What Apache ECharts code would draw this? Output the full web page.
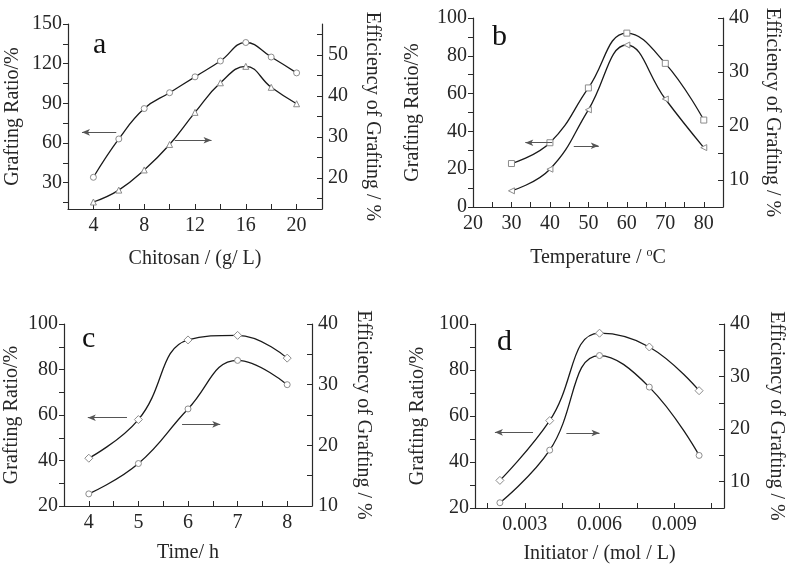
<!DOCTYPE html>
<html>
<head>
<meta charset="utf-8">
<script src="https://cdn.jsdelivr.net/npm/echarts@6/dist/echarts.min.js"></script>
<style>html,body{margin:0;padding:0;background:#fff;}#chart{width:787px;height:565px;}</style>
</head>
<body>
<div id="chart"></div>
<script>
// ---- data ----
const aX = [4, 6, 8, 10, 12, 14, 16, 18, 20];
const aRatio = [34, 63, 86, 98, 110, 122, 136, 125, 113];
const aEff = [14.2, 17.1, 22, 28.2, 36, 43.2, 47.2, 42.1, 38.1];

const bX = [30, 40, 50, 60, 70, 80];
const bRatio = [23, 34, 63, 92, 76, 46];
const bEff = [8, 12, 23, 35, 25, 16];

const cX = [4, 5, 6, 7, 8];
const cRatio = [41, 58, 93, 95, 85];
const cEff = [12, 17, 26, 34, 30];

const dX = [0.002, 0.004, 0.006, 0.008, 0.010];
const dRatio = [32, 58, 96, 90, 71];
const dEff = [6, 16, 34, 28, 15];

// tick labels
const aXLabels = [4, 8, 12, 16, 20];
const aXTicks = [4, 6, 8, 10, 12, 14, 16, 18, 20];
const aYLabels = [30, 60, 90, 120, 150];
const aYTicks = [15, 30, 45, 60, 75, 90, 105, 120, 135, 150];
const aY2Labels = [20, 30, 40, 50];
const aY2Ticks = [15, 20, 25, 30, 35, 40, 45, 50, 55];

const bXLabels = [20, 30, 40, 50, 60, 70, 80];
const bXTicks = [20, 25, 30, 35, 40, 45, 50, 55, 60, 65, 70, 75, 80, 85];
const bYLabels = [0, 20, 40, 60, 80, 100];
const bYTicks = [0, 10, 20, 30, 40, 50, 60, 70, 80, 90, 100];
const bY2Labels = [10, 20, 30, 40];
const bY2Ticks = [5, 10, 15, 20, 25, 30, 35, 40];

const cXLabels = [4, 5, 6, 7, 8];
const cXTicks = [4, 4.5, 5, 5.5, 6, 6.5, 7, 7.5, 8];
const cYLabels = [20, 40, 60, 80, 100];
const cYTicks = [20, 30, 40, 50, 60, 70, 80, 90, 100];
const cY2Labels = [10, 20, 30, 40];
const cY2Ticks = [10, 15, 20, 25, 30, 35, 40];

const dXLabels = [0.003, 0.006, 0.009];
const dXTicks = [0.0015, 0.003, 0.0045, 0.006, 0.0075, 0.009, 0.0105];
const dYLabels = [20, 40, 60, 80, 100];
const dYTicks = [20, 30, 40, 50, 60, 70, 80, 90, 100];
const dY2Labels = [10, 20, 30, 40];
const dY2Ticks = [5, 10, 15, 20, 25, 30, 35, 40];

// arrow annotations [xStart, xEnd, y(left axis)], head direction
const aArrows = [[5.8, 3.1, 68], [10.4, 13.3, 62]];
const bArrows = [[40.6, 33.6, 34], [46.2, 52.7, 32.4]];
const cArrows = [[4.77, 3.98, 58.8], [5.88, 6.65, 55.9]];
const dArrows = [[0.00333, 0.0018, 52.9], [0.00467, 0.006, 52.6]];

// ---- style ----
const FONT = '"Liberation Serif", "DejaVu Serif", serif';
const AX = '#2a2a2a';
const TXT = '#262626';
const MK = '#8c8c8c';

const grids = [
  { left: 68, top: 24, width: 254, height: 185 },
  { left: 473, top: 18, width: 250, height: 189 },
  { left: 64, top: 324, width: 248, height: 182 },
  { left: 475, top: 324, width: 251, height: 184 }
];

function xAxis(gi, min, max, labels, ticks, name, gap, fmt) {
  return {
    type: 'value', gridIndex: gi, min: min, max: max,
    name: name, nameLocation: 'middle', nameGap: gap,
    nameTextStyle: { fontFamily: FONT, fontSize: 20, color: TXT,
      rich: { sup: { fontFamily: FONT, fontSize: 12, color: TXT, verticalAlign: 'top', padding: [0, 0, 10, 0] } } },
    axisLine: { show: true, onZero: false, lineStyle: { color: AX, width: 1.2 } },
    axisTick: { show: true, inside: true, length: 5, customValues: ticks, lineStyle: { color: AX } },
    axisLabel: { customValues: labels, fontFamily: FONT, fontSize: 20, color: TXT, margin: 7,
      formatter: fmt || (v => String(v)) },
    splitLine: { show: false }
  };
}
function yAxis(gi, side, min, max, labels, ticks, name, gap) {
  return {
    type: 'value', gridIndex: gi, position: side, min: min, max: max,
    name: name, nameLocation: 'middle', nameGap: gap, nameRotate: side === 'left' ? 90 : -90,
    nameTextStyle: { fontFamily: FONT, fontSize: 20, color: TXT },
    axisLine: { show: true, onZero: false, lineStyle: { color: AX, width: 1.2 } },
    axisTick: { show: true, inside: side === 'right', length: 5, customValues: ticks, lineStyle: { color: AX } },
    axisLabel: { customValues: labels, fontFamily: FONT, fontSize: 20, color: TXT, margin: 6 },
    splitLine: { show: false }
  };
}
function zip(xs, ys) { return xs.map((x, i) => [x, ys[i]]); }
function arrowLines(arr) {
  return arr.map(a => [{ coord: [a[0], a[2]] }, { coord: [a[1], a[2]] }]);
}
function line(xi, yi, xs, ys, symbol, rot, arrows) {
  const s = {
    type: 'line', xAxisIndex: xi, yAxisIndex: yi, data: zip(xs, ys),
    smooth: 0.45, symbol: symbol, symbolSize: symbol === 'diamond' ? 8 : 6, symbolRotate: rot || 0,
    showAllSymbol: true, z: 3,
    lineStyle: { color: '#1a1a1a', width: 1.3 },
    itemStyle: { color: '#ffffff', borderColor: MK, borderWidth: 1 },
    emphasis: { disabled: true }, animation: false
  };
  if (arrows) {
    s.markLine = {
      silent: true, animation: false, symbol: ['none', 'arrow'], symbolSize: [5, 8],
      label: { show: false },
      lineStyle: { color: '#555', width: 1, type: 'solid' },
      data: arrowLines(arrows)
    };
  }
  return s;
}

const option = {
  backgroundColor: '#ffffff',
  animation: false,
  grid: grids,
  xAxis: [
    xAxis(0, 2, 22, aXLabels, aXTicks, 'Chitosan / (g/ L)', 40),
    xAxis(1, 20, 85, bXLabels, bXTicks, 'Temperature / {sup|o}C', 40),
    xAxis(2, 3.5, 8.5, cXLabels, cXTicks, 'Time/ h', 37),
    xAxis(3, 0.001, 0.011, dXLabels, dXTicks, 'Initiator / (mol / L)', 36, v => v.toFixed(3))
  ],
  yAxis: [
    yAxis(0, 'left', 10, 150, aYLabels, aYTicks, 'Grafting Ratio/%', 45),
    yAxis(0, 'right', 12.5, 57.5, aY2Labels, aY2Ticks, 'Efficiency of Grafting / %', 40),
    yAxis(1, 'left', 0, 100, bYLabels, bYTicks, 'Grafting Ratio/%', 50),
    yAxis(1, 'right', 5, 40, bY2Labels, bY2Ticks, 'Efficiency of Grafting / %', 39),
    yAxis(2, 'left', 20, 100, cYLabels, cYTicks, 'Grafting Ratio/%', 42),
    yAxis(2, 'right', 10, 40, cY2Labels, cY2Ticks, 'Efficiency of Grafting / %', 41),
    yAxis(3, 'left', 20, 100, dYLabels, dYTicks, 'Grafting Ratio/%', 47),
    yAxis(3, 'right', 5, 40, dY2Labels, dY2Ticks, 'Efficiency of Grafting / %', 42)
  ],
  series: [
    line(0, 0, aX, aRatio, 'circle', 0, aArrows),
    line(0, 1, aX, aEff, 'triangle', 0),
    line(1, 2, bX, bRatio, 'rect', 0, bArrows),
    line(1, 3, bX, bEff, 'triangle', 90),
    line(2, 4, cX, cRatio, 'diamond', 0, cArrows),
    line(2, 5, cX, cEff, 'circle', 0),
    line(3, 6, dX, dRatio, 'diamond', 0, dArrows),
    line(3, 7, dX, dEff, 'circle', 0)
  ],
  graphic: [
    { type: 'text', left: 93, top: 30, style: { text: 'a', font: '30px ' + FONT, fill: '#111' } },
    { type: 'text', left: 492, top: 22, style: { text: 'b', font: '30px ' + FONT, fill: '#111' } },
    { type: 'text', left: 82, top: 324, style: { text: 'c', font: '30px ' + FONT, fill: '#111' } },
    { type: 'text', left: 497, top: 327, style: { text: 'd', font: '30px ' + FONT, fill: '#111' } }
  ]
};
// arrow heads: first arrow of each pair points left (head at end since start/end swapped)
const chart = echarts.init(document.getElementById('chart'), null, { renderer: 'canvas' });
chart.setOption(option);
</script>
</body>
</html>
